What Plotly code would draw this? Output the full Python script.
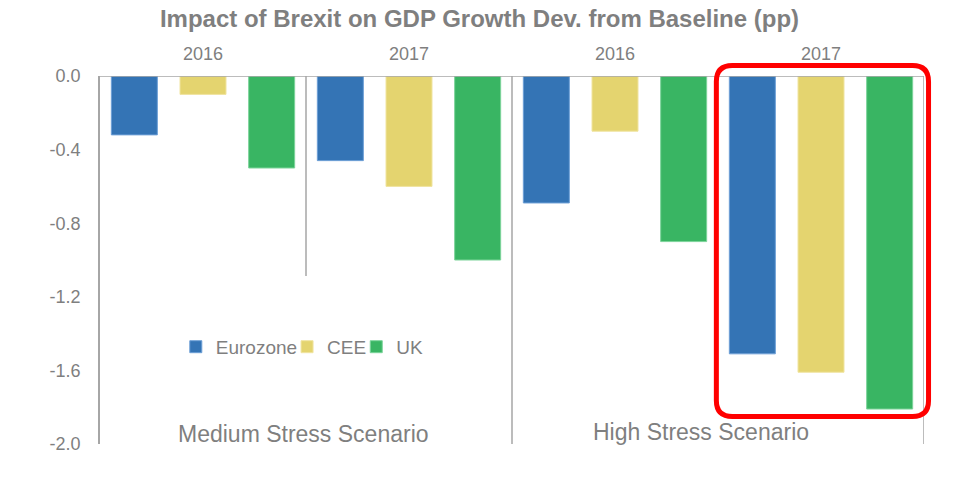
import plotly.graph_objects as go

# ---- data ----
groups = ["Medium|2016", "Medium|2017", "High|2016", "High|2017"]
year_labels = ["2016", "2017", "2016", "2017"]
scenarios = ["Medium Stress Scenario", "High Stress Scenario"]
series_names = ["Eurozone", "CEE", "UK"]
eurozone = [-0.32, -0.46, -0.69, -1.51]
cee = [-0.10, -0.60, -0.30, -1.61]
uk = [-0.50, -1.00, -0.90, -1.81]
y_ticks = [0.0, -0.4, -0.8, -1.2, -1.6, -2.0]

colors = ["#3474B5", "#E4D46F", "#39B563"]
edge_colors = ["#6D9FD6", "#F0E4A0", "#7CD49A"]
legend_ids = ["legend", "legend2", "legend3"]
legend_x = [0.092, 0.227, 0.311]
gray = "#7F7F7F"
axis_gray = "#A6A6A6"
font_family = "Liberation Sans, Arial, sans-serif"

fig = go.Figure()
for name, vals, c, ec, lid in zip(series_names, [eurozone, cee, uk], colors,
                                  edge_colors, legend_ids):
    fig.add_trace(go.Bar(
        x=groups, y=vals, name=name, legend=lid,
        marker=dict(color=c, line=dict(color=ec, width=1)),
    ))

# year labels above each group
for g, lab in zip(groups, year_labels):
    fig.add_annotation(x=g, y=1.0, xref="x", yref="paper", yanchor="bottom",
                       yshift=10, text=lab, showarrow=False,
                       font=dict(size=18, color=gray, family=font_family))

# scenario labels at the bottom
fig.add_annotation(x=0.488, y=0.0, xref="x", yref="paper", yanchor="bottom",
                   yshift=-5, text=scenarios[0], showarrow=False,
                   font=dict(size=23, color=gray, family=font_family))
fig.add_annotation(x=2.417, y=0.0, xref="x", yref="paper", yanchor="bottom",
                   yshift=-3, text=scenarios[1], showarrow=False,
                   font=dict(size=23, color=gray, family=font_family))

# separators
fig.add_shape(type="line", xref="x", yref="y", x0=0.5, x1=0.5, y0=0, y1=-1.087,
              line=dict(color=axis_gray, width=1.5))
fig.add_shape(type="line", xref="x", yref="y", x0=1.5, x1=1.5, y0=0, y1=-2.0,
              line=dict(color=axis_gray, width=1.5))
fig.add_shape(type="line", xref="x", yref="y", x0=3.5, x1=3.5, y0=0, y1=-2.0,
              line=dict(color=axis_gray, width=1.5))
# zero line
fig.add_shape(type="line", xref="paper", yref="y", x0=0, x1=1, y0=0, y1=0,
              line=dict(color=axis_gray, width=1.5))

# red rounded highlight box (paper coords)
L, R, T, B = 0.748, 1.0055, 1.0285, 0.0747
rx, ry = 0.0194, 0.0435
path = (f"M {L+rx},{T} L {R-rx},{T} Q {R},{T} {R},{T-ry} "
        f"L {R},{B+ry} Q {R},{B} {R-rx},{B} "
        f"L {L+rx},{B} Q {L},{B} {L},{B+ry} "
        f"L {L},{T-ry} Q {L},{T} {L+rx},{T} Z")
fig.add_shape(type="path", xref="paper", yref="paper", path=path,
              line=dict(color="#FF0000", width=5), fillcolor="rgba(0,0,0,0)")

legend_common = dict(orientation="h", y=0.264, xanchor="left", yanchor="middle",
                     font=dict(size=19, color=gray, family=font_family),
                     itemwidth=30, bgcolor="rgba(0,0,0,0)")

fig.update_layout(
    width=959, height=480,
    margin=dict(l=100, r=35, t=76, b=36),
    paper_bgcolor="white", plot_bgcolor="white",
    barmode="group", bargap=0.0, bargroupgap=0.33,
    title=dict(text="<b>Impact of Brexit on GDP Growth Dev. from Baseline (pp)</b>",
               x=0.5, xanchor="center", y=0.962, yanchor="middle",
               font=dict(size=24, color=gray, family=font_family)),
    font=dict(family=font_family, color=gray),
    showlegend=True,
    legend=dict(x=legend_x[0], **legend_common),
    legend2=dict(x=legend_x[1], **legend_common),
    legend3=dict(x=legend_x[2], **legend_common),
    xaxis=dict(type="category", showticklabels=False, showgrid=False, zeroline=False,
               showline=False, ticks="", range=[-0.5, 3.5]),
    yaxis=dict(range=[-2.0, 0.0], tickvals=y_ticks,
               ticktext=[f"{v:.1f}" for v in y_ticks],
               showgrid=False, zeroline=False, showline=True, linecolor=axis_gray,
               linewidth=1.5, ticks="", ticklabelstandoff=14,
               tickfont=dict(size=18, color=gray, family=font_family)),
)

fig.write_html("out.html")
